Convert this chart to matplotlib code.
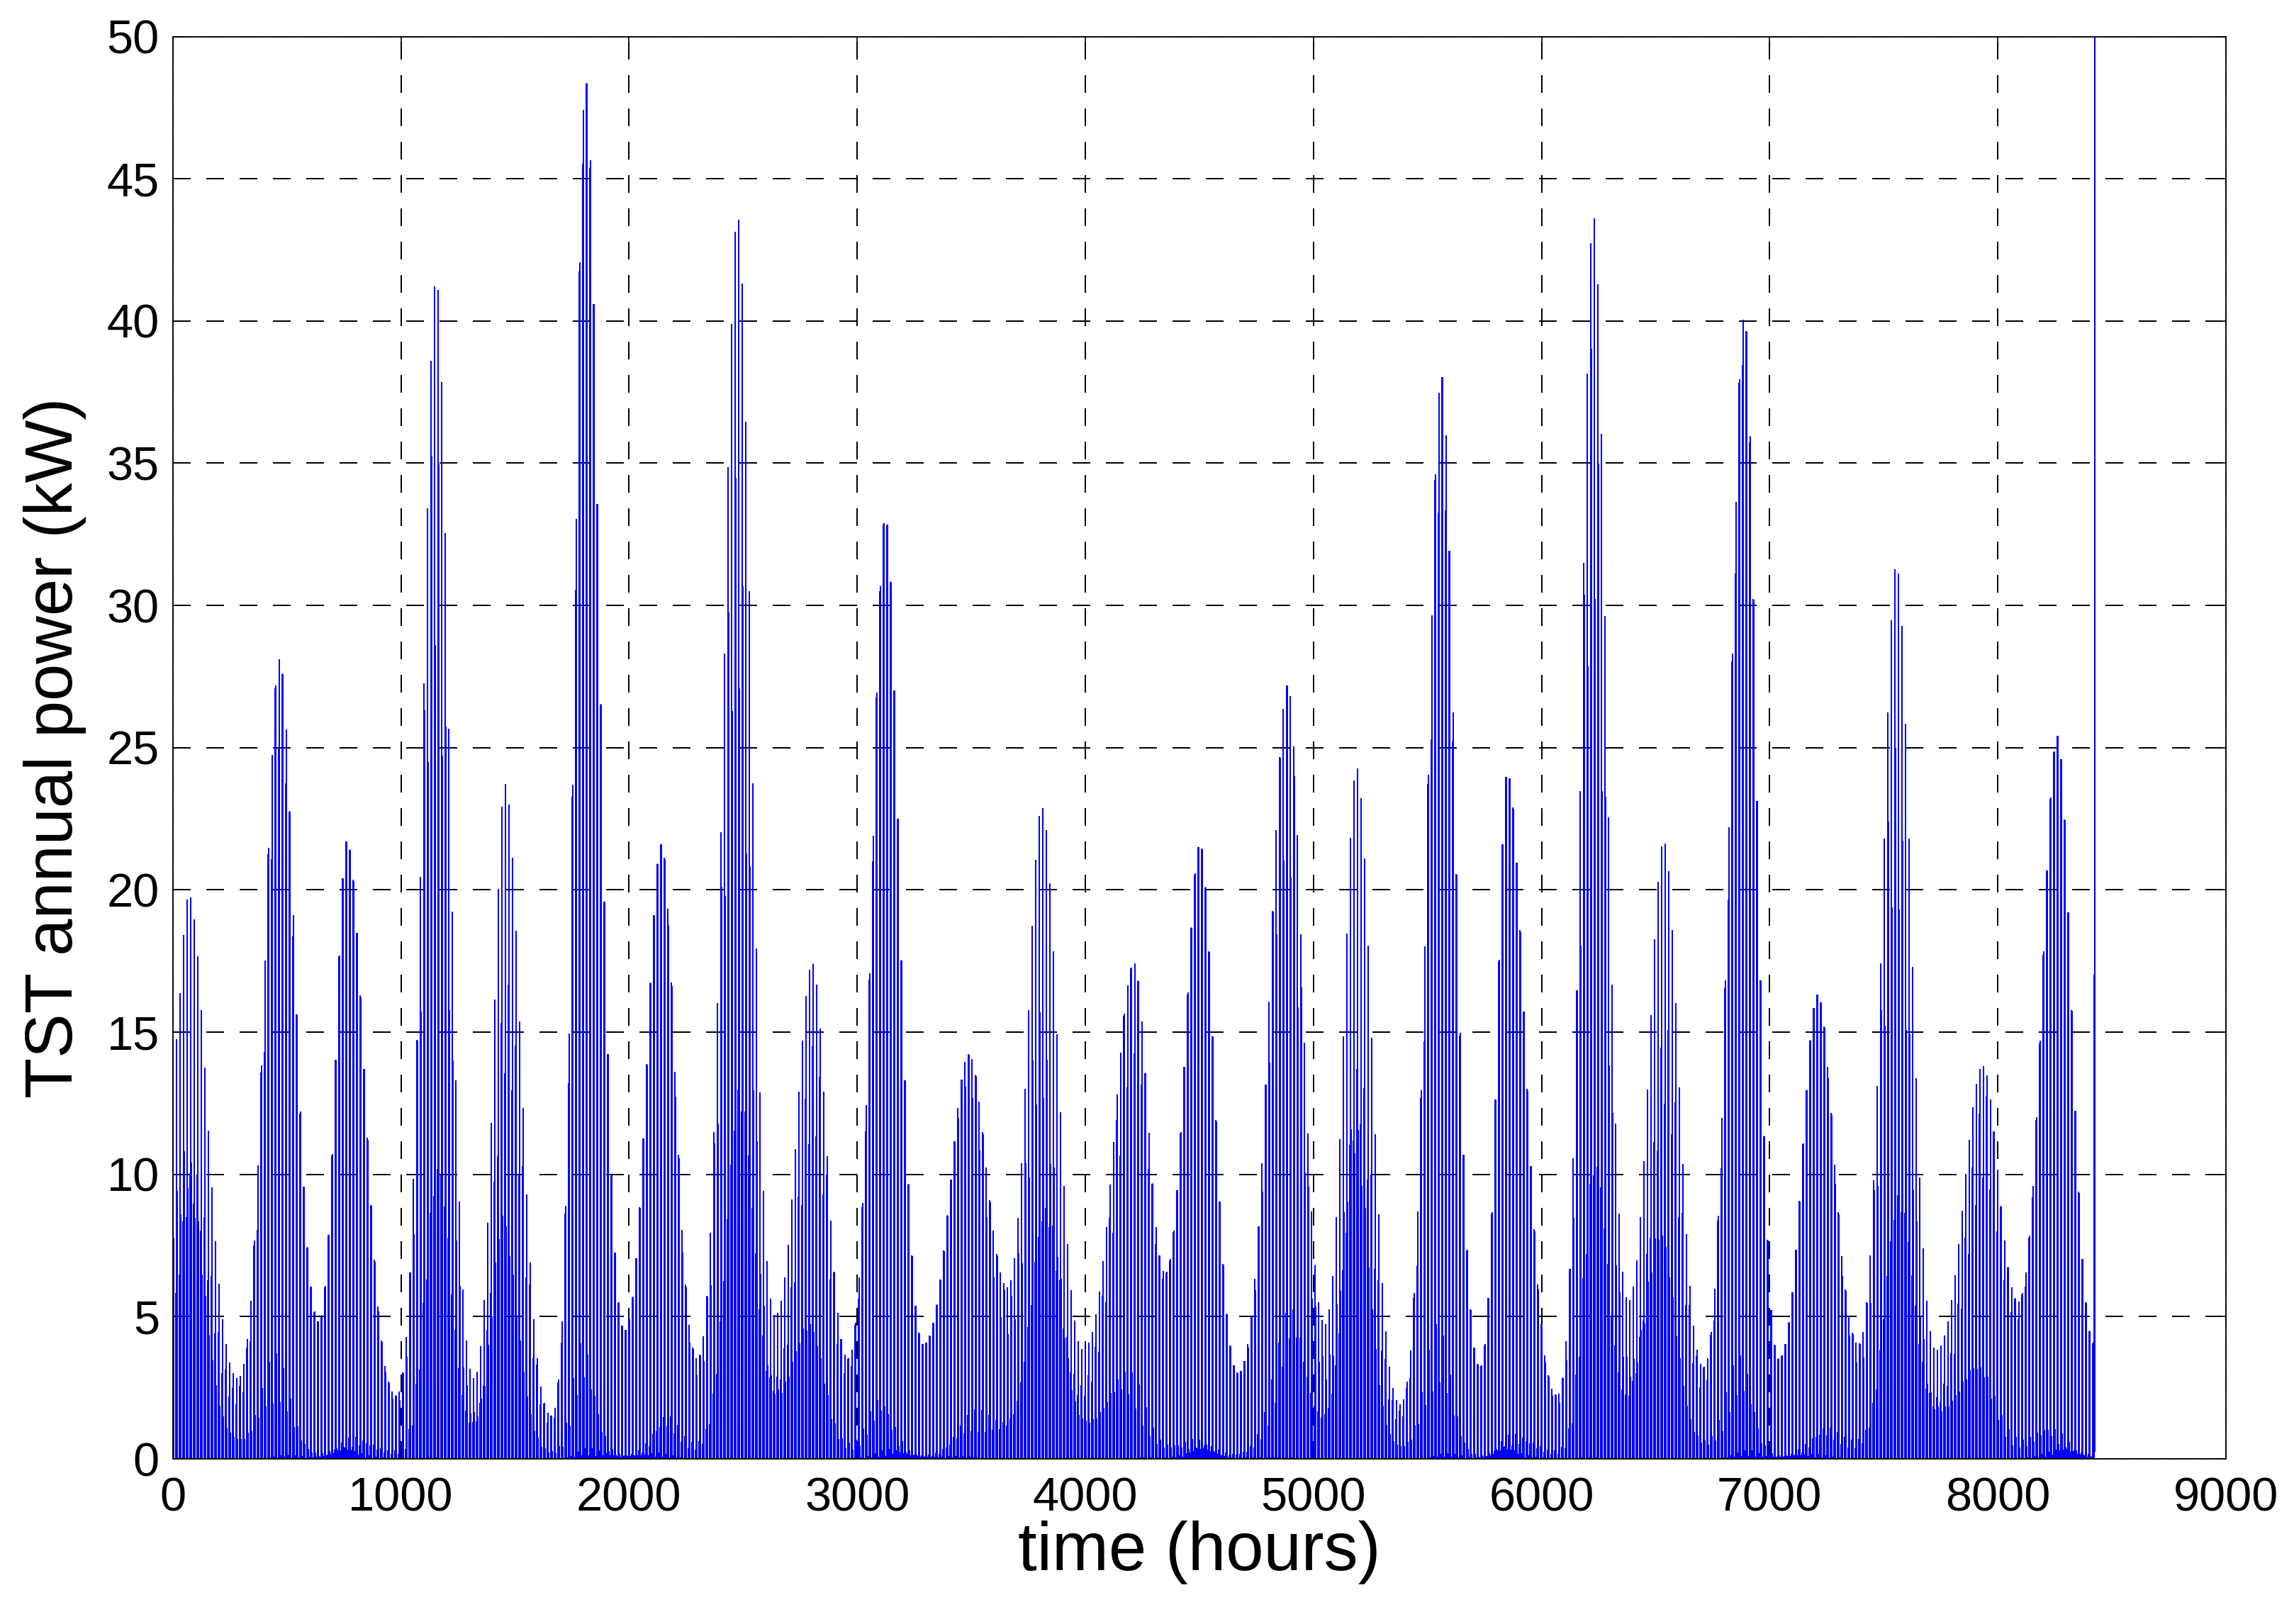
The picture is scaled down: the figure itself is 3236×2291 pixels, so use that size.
import numpy as np
import matplotlib
matplotlib.use("Agg")
import matplotlib.pyplot as plt
from numpy.lib.stride_tricks import sliding_window_view

# піки сизигійних циклів
peak_hours = [70, 468, 763, 1155, 1456, 1809, 2142, 2476, 2803, 3124, 3490, 3810, 4214,
              4503, 4888, 5189, 5561, 5850, 6228, 6536, 6889, 7210, 7556, 7934, 8262]
peak_kw = [19.8, 28.1, 21.7, 41.5, 23.7, 48.5, 21.6, 43.7, 17.4, 33.1, 14.2, 22.9, 17.4,
           21.6, 27.2, 24.3, 38.1, 24.1, 43.7, 21.7, 40.2, 16.3, 31.4, 13.8, 25.4]

# мінімуми між ними (плюс початок і кінець ряду)
trough_hours = [0, 285, 640, 980, 1320, 1660, 1980, 2300, 2640, 2960, 3290, 3660, 3990,
                4350, 4670, 5050, 5380, 5730, 6070, 6380, 6710, 7040, 7390, 7730, 8090, 8424]
trough_kw = [14.0, 2.8, 4.8, 2.2, 2.8, 1.5, 4.5, 3.5, 5.0, 3.5, 4.0, 6.0, 3.8,
             6.5, 3.0, 4.7, 1.9, 3.2, 2.2, 5.5, 3.2, 3.5, 4.0, 3.8, 5.5, 4.0]

last_hour = 8424
last_spike_kw = 60.0     # останнє значення виходить за межу осі
stripe_period = 15.5     # відстань між вертикальними смугами, год

xticks = list(range(0, 9001, 1000))
yticks = list(range(0, 51, 5))

# обвідна: кубічний корінь (швидкість) плавно між екстремумами
knots = dict(zip(peak_hours + trough_hours, peak_kw + trough_kw))
knot_t = np.array(sorted(knots), dtype=float)
knot_a = np.array([knots[int(k)] for k in knot_t]) ** (1 / 3)

hours = np.arange(0, last_hour + 1, 1.0)
idx = np.clip(np.searchsorted(knot_t, hours, side="right") - 1, 0, len(knot_t) - 2)
u = (hours - knot_t[idx]) / (knot_t[idx + 1] - knot_t[idx])
w = (1 - np.cos(np.pi * u)) / 2
envelope = (knot_a[idx] + (knot_a[idx + 1] - knot_a[idx]) * w) ** 3

# вузькі сплески раз на період, нормовані так, щоб вершина смуги = обвідна
spike = np.abs(np.cos(np.pi * (hours - 1.0) / stripe_period)) ** 30
half = 7
roll = sliding_window_view(np.pad(spike, half, mode="edge"), 2 * half + 1).max(axis=1)
power = envelope * spike / roll
power[-1] = 0.5
hours = np.append(hours, last_hour + 1)
power = np.append(power, last_spike_kw)

plt.rcParams["lines.scale_dashes"] = False
plt.rcParams["path.simplify"] = False
plt.rcParams["font.family"] = ["Liberation Sans", "DejaVu Sans"]

fig = plt.figure(figsize=(3237 / 300, 2291 / 300), dpi=300)
ax = fig.add_axes([0.0753, 0.1017, 0.8947, 0.8758])

ax.plot(hours, power, color=(0, 0, 1), linewidth=0.3, antialiased=False)

ax.set_xlim(0, 9000)
ax.set_ylim(0, 50)
ax.set_xticks(xticks)
ax.set_yticks(yticks)
ax.grid(True, color="k", linestyle=(0, (5.8, 5.3)), linewidth=0.45, antialiased=False)
ax.set_axisbelow(True)
ax.tick_params(direction="in", length=2, width=0.4, top=True, right=True, labelsize=16)
ax.tick_params(axis="x", pad=6)
ax.tick_params(axis="y", pad=4.5)
for s in ax.spines.values():
    s.set_linewidth(0.45)

ax.set_xlabel("time (hours)", fontsize=23, labelpad=0)
ax.set_ylabel("TST annual power (kW)", fontsize=22.5, labelpad=7)

fig.savefig("out.png", dpi=300)
